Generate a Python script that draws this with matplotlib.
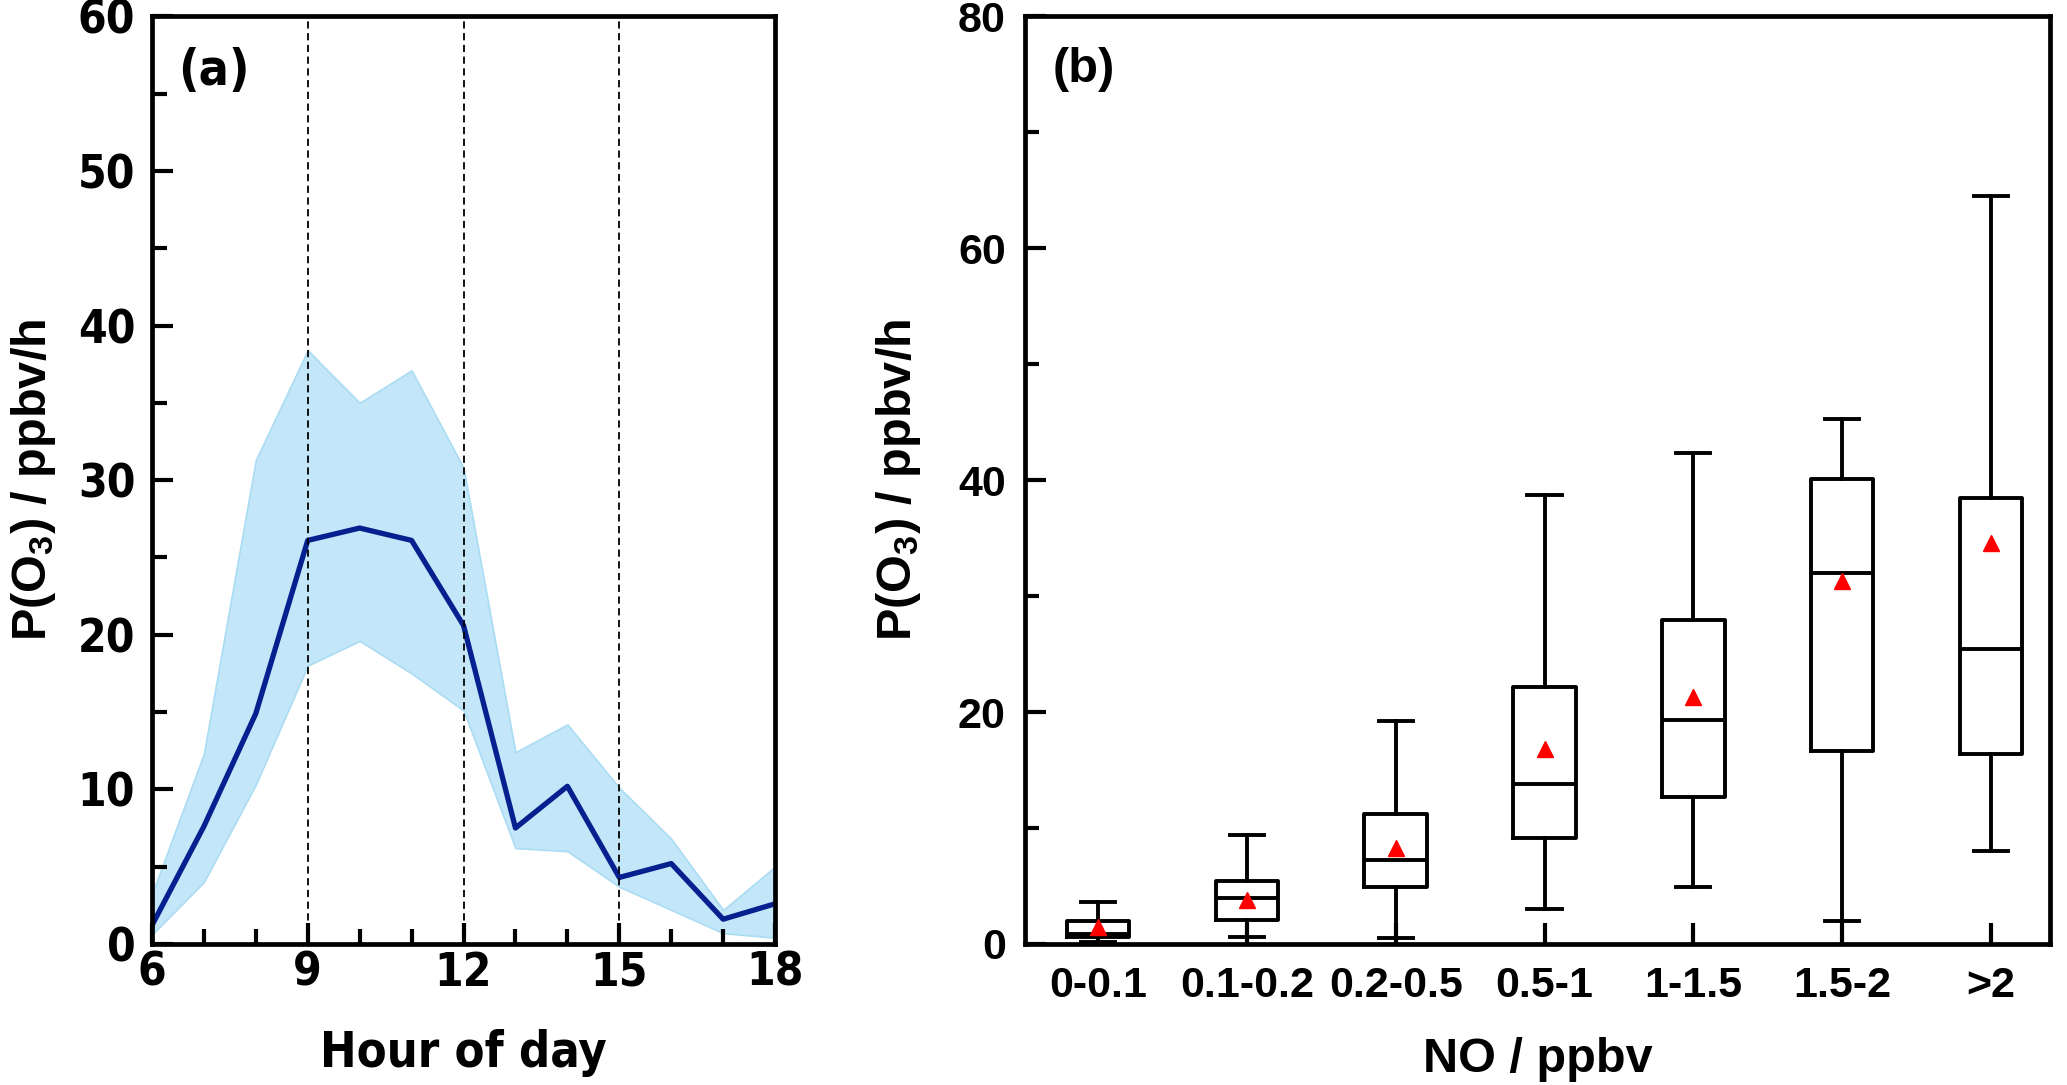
import matplotlib
matplotlib.use("Agg")
import matplotlib.pyplot as plt
from matplotlib.ticker import MultipleLocator

# panel (a): diurnal P(O3)
hours = [6, 7, 8, 9, 10, 11, 12, 13, 14, 15, 16, 17, 18]
po3_mean = [1.2, 7.6, 14.9, 26.1, 26.9, 26.1, 20.6, 7.5, 10.2, 4.3, 5.2, 1.6, 2.6]
po3_upper = [3.2, 12.3, 31.3, 38.4, 35.0, 37.1, 30.8, 12.4, 14.2, 10.1, 6.8, 2.2, 5.0]
po3_lower = [0.6, 4.0, 10.3, 18.0, 19.6, 17.5, 15.1, 6.2, 6.0, 3.7, 2.2, 0.7, 0.4]

# panel (b): P(O3) binned by NO
no_bins = ['0-0.1', '0.1-0.2', '0.2-0.5', '0.5-1', '1-1.5', '1.5-2', '>2']
wlo = [0.2, 0.6, 0.5, 3.0, 4.9, 2.0, 8.0]
q1 = [0.6, 2.1, 4.9, 9.1, 12.7, 16.6, 16.4]
med = [0.9, 4.0, 7.2, 13.8, 19.3, 32.0, 25.4]
q3 = [2.0, 5.4, 11.2, 22.2, 27.9, 40.1, 38.5]
whi = [3.6, 9.4, 19.2, 38.7, 42.3, 45.3, 64.5]
mean = [1.5, 3.8, 8.3, 16.8, 21.3, 31.3, 34.6]

narrow = ['DejaVu Sans', 'Liberation Sans']
arial = ['Liberation Sans', 'DejaVu Sans']
plt.rcParams['mathtext.fontset'] = 'custom'
plt.rcParams['mathtext.rm'] = 'Liberation Sans:bold'
plt.rcParams['mathtext.default'] = 'regular'

fig = plt.figure(figsize=(20.67, 10.85), dpi=100)

# ---- (a)
ax1 = fig.add_axes([0.0735, 0.130, 0.3015, 0.855])
ax1.fill_between(hours, po3_lower, po3_upper, facecolor='#c3e7f8', edgecolor='#aadcf3', lw=1.2)
ax1.plot(hours, po3_mean, color='#07208f', lw=3.8)
for h in [9, 12, 15]:
    ax1.axvline(h, color='black', lw=1.3, ls=(0, (4, 2.5)))
ax1.set_xlim(6, 18)
ax1.set_ylim(0, 60)
ax1.xaxis.set_major_locator(MultipleLocator(3))
ax1.xaxis.set_minor_locator(MultipleLocator(1))
ax1.yaxis.set_major_locator(MultipleLocator(10))
ax1.yaxis.set_minor_locator(MultipleLocator(5))
ax1.tick_params(which='major', direction='in', length=15, width=3)
ax1.tick_params(which='minor', direction='in', length=11, width=3)
ax1.tick_params(axis='y', pad=12)
ax1.tick_params(axis='x', pad=5)
for lab in ax1.get_xticklabels() + ax1.get_yticklabels():
    lab.set_family(narrow)
    lab.set_stretch('condensed')
    lab.set_fontsize(33)
    lab.set_fontweight('bold')
ax1.set_xlabel('Hour of day', family=narrow, stretch='condensed', fontsize=35, fontweight='bold')
ax1.xaxis.set_label_coords(0.5, -0.092)
ax1.set_ylabel(r'P(O$_3$) / ppbv/h', family=arial, fontsize=35, fontweight='bold')
ax1.yaxis.set_label_coords(-0.15, 0.5)
ax1.text(0.042, 0.967, '(a)', transform=ax1.transAxes, ha='left', va='top',
         family=narrow, stretch='condensed', fontsize=36, fontweight='bold')

# ---- (b)
ax2 = fig.add_axes([0.496, 0.130, 0.496, 0.855])
stats = []
for i in range(len(no_bins)):
    stats.append({'label': no_bins[i], 'whislo': wlo[i], 'q1': q1[i], 'med': med[i],
                  'q3': q3[i], 'whishi': whi[i], 'mean': mean[i], 'fliers': []})
ax2.bxp(stats, positions=range(1, len(no_bins) + 1), widths=0.42, capwidths=0.23,
        showmeans=True, showfliers=False,
        boxprops=dict(color='black', lw=2.8),
        whiskerprops=dict(color='black', lw=2.8),
        capprops=dict(color='black', lw=2.8),
        medianprops=dict(color='black', lw=2.8),
        meanprops=dict(marker='^', markerfacecolor='red', markeredgecolor='red', markersize=11))
ax2.set_xlim(0.51, 7.4)
ax2.set_ylim(0, 80)
ax2.yaxis.set_major_locator(MultipleLocator(20))
ax2.yaxis.set_minor_locator(MultipleLocator(10))
ax2.tick_params(which='major', direction='in', length=15, width=3)
ax2.tick_params(which='minor', direction='in', length=10, width=3)
ax2.tick_params(axis='x', which='minor', length=0)
ax2.tick_params(axis='y', pad=14)
ax2.tick_params(axis='x', pad=16)
for lab in ax2.get_xticklabels() + ax2.get_yticklabels():
    lab.set_family(arial)
    lab.set_fontsize(31)
    lab.set_fontweight('bold')
ax2.set_xlabel('NO / ppbv', family=arial, fontsize=35, fontweight='bold')
ax2.xaxis.set_label_coords(0.5, -0.10)
ax2.set_ylabel(r'P(O$_3$) / ppbv/h', family=arial, fontsize=35, fontweight='bold')
ax2.yaxis.set_label_coords(-0.10, 0.5)
ax2.text(0.027, 0.967, '(b)', transform=ax2.transAxes, ha='left', va='top',
         family=arial, fontsize=35, fontweight='bold')

for ax in (ax1, ax2):
    for s in ax.spines.values():
        s.set_linewidth(3.4)

fig.savefig('out.png', dpi=100)
